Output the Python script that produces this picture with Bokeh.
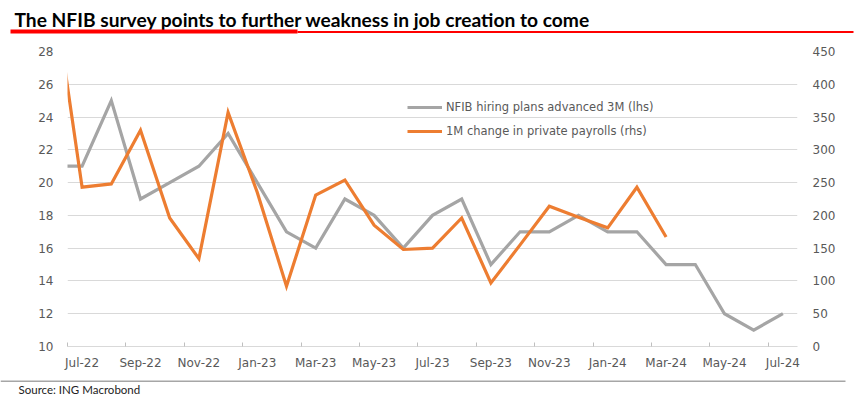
from bokeh.plotting import figure
from bokeh.models import (Range1d, LinearAxis, FixedTicker, Legend, LegendItem,
                          ColumnDataSource)
from bokeh.layouts import column
from bokeh.core.properties import value
from bokeh.embed import file_html
from bokeh.resources import INLINE
import numpy as np

# ---------------- data ----------------
months = ["Jun-22", "Jul-22", "Aug-22", "Sep-22", "Oct-22", "Nov-22", "Dec-22",
          "Jan-23", "Feb-23", "Mar-23", "Apr-23", "May-23", "Jun-23", "Jul-23",
          "Aug-23", "Sep-23", "Oct-23", "Nov-23", "Dec-23", "Jan-24", "Feb-24",
          "Mar-24", "Apr-24", "May-24", "Jun-24", "Jul-24"]
nfib_hiring = [21, 21, 25, 19, 20, 21, 23, 20, 17, 16, 19, 18, 16, 18, 19, 15,
               17, 17, 18, 17, 17, 15, 15, 12, 11, 12]
private_payrolls = [550, 243, 248, 330, 196, 134, 357, 235, 92, 231, 254, 185,
                    148, 150, 196, 97, 155, 214, 197, 181, 243, 167,
                    None, None, None, None]
x_tick_labels = ["Jul-22", "Sep-22", "Nov-22", "Jan-23", "Mar-23", "May-23",
                 "Jul-23", "Sep-23", "Nov-23", "Jan-24", "Mar-24", "May-24", "Jul-24"]
lhs_ticks = [10, 12, 14, 16, 18, 20, 22, 24, 26, 28]
rhs_ticks = [0, 50, 100, 150, 200, 250, 300, 350, 400, 450]

title_text = "The NFIB survey points to further weakness in job creation to come"
source_text = "Source: ING Macrobond"
nfib_label = "NFIB hiring plans advanced 3M (lhs)"
payroll_label = "1M change in private payrolls (rhs)"

# ---------------- positions (month index, mid-month) ----------------
xs = [i - 0.5 for i in range(len(months))]   # Jul-22 starts at 0
pay = [np.nan if v is None else v for v in private_payrolls]
src = ColumnDataSource(dict(x=xs, nfib=nfib_hiring, pay=pay))

GRAY = "#a5a5a5"
ORANGE = "#ed7d31"
TXT = "#595959"
W = 860


def blank_panel(h):
    f = figure(width=W, height=h, output_backend="svg", toolbar_location=None,
               x_range=Range1d(0, W), y_range=Range1d(h, 0), min_border=0,
               x_axis_type=None, y_axis_type=None, outline_line_color=None,
               background_fill_color="white", border_fill_color="white",
               frame_align=False)
    f.xgrid.visible = False
    f.ygrid.visible = False
    return f


# ---------------- header (title + red rule) ----------------
HH = 36
head = blank_panel(HH)
head.text(x=[14], y=[19], text=[title_text], text_font=value("Lato"),
          text_font_style="bold", text_font_size=value("19.2px"),
          text_color="#000000", text_baseline="alphabetic", text_align="left")
head.quad(left=[10], right=[297], top=[29], bottom=[33], fill_color="#ff0000",
          line_color=None)
head.quad(left=[297], right=[853], top=[30.5], bottom=[32.5], fill_color="#ff0000",
          line_color=None)

# ---------------- main chart ----------------
L, R, T, B = 67, 63, 15, 26
MH = T + 295 + B
p = figure(width=W, height=MH, output_backend="svg", toolbar_location=None,
           x_range=Range1d(0, 25), y_range=Range1d(min(lhs_ticks), max(lhs_ticks)),
           min_border_left=L, min_border_right=R, min_border_top=T, min_border_bottom=B,
           outline_line_color=None, background_fill_color="white",
           border_fill_color="white", frame_align=False)
p.extra_y_ranges = {"rhs": Range1d(min(rhs_ticks), max(rhs_ticks))}

gray_r = p.line("x", "nfib", source=src, line_color=GRAY, line_width=3.2,
                line_join="miter")
orange_r = p.line("x", "pay", source=src, line_color=ORANGE, line_width=3.2,
                  line_join="miter", y_range_name="rhs")

# left axis
ya = p.yaxis[0]
ya.ticker = FixedTicker(ticks=lhs_ticks)
ya.axis_line_color = None
ya.major_tick_line_color = None
ya.minor_tick_line_color = None
ya.major_tick_out = 0
ya.major_tick_in = 0
ya.major_label_standoff = 14
ya.major_label_text_font = "DejaVu Sans"
ya.major_label_text_font_size = "12px"
ya.major_label_text_color = TXT

# right axis
ra = LinearAxis(y_range_name="rhs", ticker=FixedTicker(ticks=rhs_ticks))
ra.axis_line_color = None
ra.major_tick_line_color = None
ra.minor_tick_line_color = None
ra.major_tick_out = 0
ra.major_tick_in = 0
ra.major_label_standoff = 15
ra.major_label_text_font = "DejaVu Sans"
ra.major_label_text_font_size = "12px"
ra.major_label_text_color = TXT
p.add_layout(ra, "right")

# bottom axis: labels mid-month, tick marks at month boundaries
label_pos = [xs[months.index(m)] for m in x_tick_labels]
tick_marks = [xs[months.index(m)] - 0.5 for m in x_tick_labels]
xa = p.xaxis[0]
xa.ticker = FixedTicker(ticks=label_pos, minor_ticks=tick_marks)
xa.major_label_overrides = {pos: lbl for pos, lbl in zip(label_pos, x_tick_labels)}
xa.major_tick_line_color = None
xa.major_tick_in = 0
xa.major_tick_out = 0
xa.minor_tick_line_color = "#bfbfbf"
xa.minor_tick_in = 4
xa.minor_tick_out = 0
xa.axis_line_color = "#d9d9d9"
xa.major_label_standoff = 9
xa.major_label_text_font = "DejaVu Sans"
xa.major_label_text_font_size = "12px"
xa.major_label_text_color = TXT

p.xgrid.grid_line_color = None
p.ygrid.ticker = FixedTicker(ticks=lhs_ticks)
p.ygrid.grid_line_color = "#d9d9d9"
p.ygrid.grid_line_width = 1

# legend
legend = Legend(items=[LegendItem(label=nfib_label, renderers=[gray_r]),
                       LegendItem(label=payroll_label, renderers=[orange_r])],
                location=(340, 205), orientation="vertical",
                glyph_width=35, glyph_height=20, label_height=20, spacing=4,
                padding=0, margin=0, label_standoff=4,
                border_line_color=None, background_fill_alpha=0,
                label_text_font="DejaVu Sans", label_text_font_size="11.5px",
                label_text_color=TXT)
p.add_layout(legend)

# ---------------- footer (rule + source) ----------------
FH = 396 - HH - MH
foot = blank_panel(FH)
foot.quad(left=[0], right=[845], top=[8], bottom=[9.5], fill_color="#a6a6a6",
          line_color=None)
foot.text(x=[18], y=[FH - 7], text=[source_text], text_font=value("Lato"),
          text_font_size=value("11.5px"), text_color="#222222",
          text_baseline="alphabetic", text_align="left")

layout = column(head, p, foot, spacing=0)
open("out.html", "w").write(file_html(layout, INLINE))
